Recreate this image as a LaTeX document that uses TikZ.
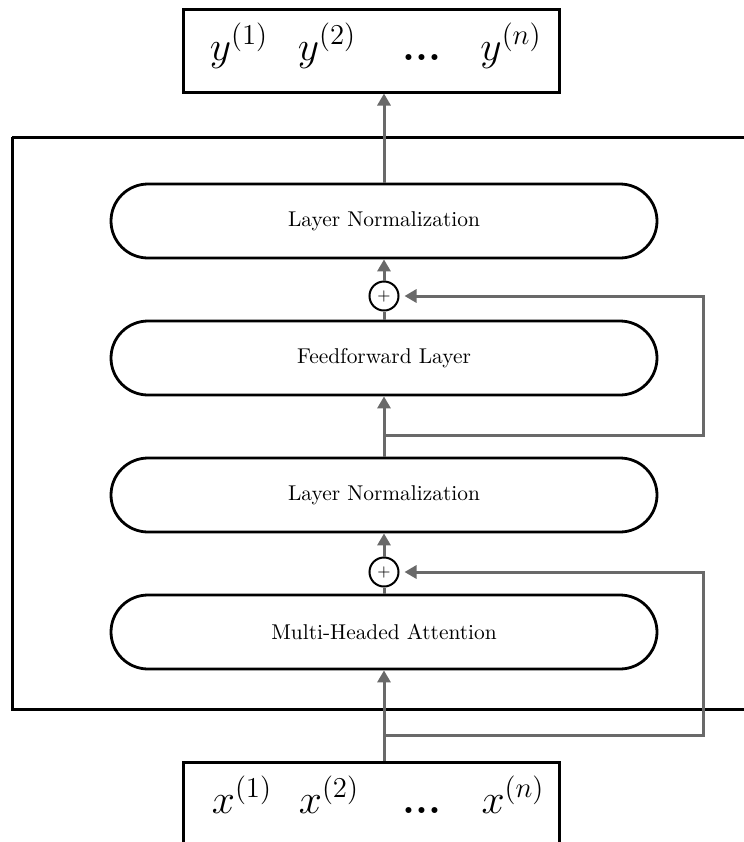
\documentclass[tikz,border=0pt]{standalone}
\usetikzlibrary{arrows.meta,shapes.misc}
\definecolor{connector}{RGB}{105,105,105}
\newcommand{\seqdots}{\textbf{.\kern-0.2pt.\kern-0.2pt.}}
\begin{document}
\begin{tikzpicture}[x=0.5pt,y=-0.5pt,
  seqbox/.style={draw=black,line width=1.5pt,minimum width=188pt,inner sep=0pt},
  layerbox/.style={rounded rectangle,draw=black,line width=1.4pt,fill=white,
    minimum width=273pt,minimum height=37pt,inner sep=0pt,
    font=\fontsize{10.7pt}{13pt}\selectfont},
  addnode/.style={circle,draw=black,line width=1pt,minimum size=14.5pt,inner sep=0pt,
    font=\fontsize{8pt}{9pt}\selectfont},
  flow/.style={draw=connector,line width=1.5pt},
  arrow/.style={flow,-{Triangle[width=6.5pt,length=6pt]}},
  seqtext/.style={font=\huge,inner sep=0pt,anchor=base}
]
\useasboundingbox (0,0) rectangle (744,842);
\clip (0,0) rectangle (744,842);

% encoder block frame
\draw[line width=1.5pt] (12,137) -- (760,137) (12,137) -- (12,709) -- (760,709);

% output and input sequences
\node[seqbox,minimum height=41.5pt] (out) at (371,50.5) {};
\node[seqbox,minimum height=50pt] (in) at (371,812) {};
\node[seqtext] (y1) at (239,60) {$y^{(1)}$};
\node[seqtext] (y2) at (327,60) {$y^{(2)}$};
\node[seqtext] (yd) at (422,60) {\seqdots};
\node[seqtext] (yn) at (511,60) {$y^{(n)}$};
\node[seqtext] (x1) at (242,813) {$x^{(1)}$};
\node[seqtext] (x2) at (329,813) {$x^{(2)}$};
\node[seqtext] (xd) at (422,813) {\seqdots};
\node[seqtext] (xn) at (513,813) {$x^{(n)}$};

% sublayers
\node[layerbox] (ln2) at (384,221) {Layer Normalization};
\node[layerbox] (ff)  at (384,358) {Feedforward Layer};
\node[layerbox] (ln1) at (384,495) {Layer Normalization};
\node[layerbox] (mha) at (384,632) {Multi-Headed Attention};

% residual additions
\node[addnode] (add2) at (384,296) {$+$};
\node[addnode] (add1) at (384,572) {$+$};

% residual branch points
\coordinate (b2) at (384,435);
\coordinate (c2) at (703,435);
\coordinate (b1) at (384,735);
\coordinate (c1) at (703,735);

% main flow
\draw[arrow] (mha.south |- in.north) -- (mha.south);
\draw[flow] (mha.north) -- (add1.south);
\draw[arrow] (add1.north) -- (ln1.south);
\draw[arrow] (ln1.north) -- (ff.south);
\draw[flow] (ff.north) -- (add2.south);
\draw[arrow] (add2.north) -- (ln2.south);
\draw[arrow] (ln2.north) -- (ln2.north |- out.south);

% skip connections
\draw[arrow,shorten >=2.5pt] (b1) -- (c1) |- (add1.east);
\draw[arrow,shorten >=2.5pt] (b2) -- (c2) |- (add2.east);
\end{tikzpicture}
\end{document}
